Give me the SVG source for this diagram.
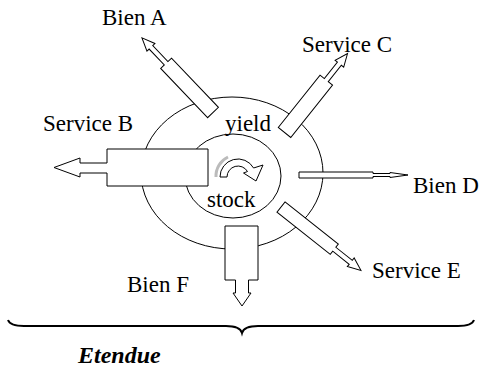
<svg xmlns="http://www.w3.org/2000/svg" width="488" height="369" viewBox="0 0 488 369">
<defs>
<path id="arA" d="M0,-7.5 H68 V-2.5 H90 V-5.5 L103,0 L90,5.5 V2.5 H68 V7.5 H0 Z"/>
</defs>
<rect width="488" height="369" fill="#fff"/>
<g id="outer-zone">
<ellipse cx="232" cy="173" rx="91" ry="76" fill="none" stroke="#000" stroke-width="1"/>
<text x="225" y="131" font-family="Liberation Serif" font-size="23">yield</text>
</g>
<g id="stock-core">
<ellipse cx="233" cy="176" rx="48" ry="42" fill="none" stroke="#000" stroke-width="1"/>
<path d="M216,177 A21,21 0 0 1 228,157" fill="none" stroke="#bbb" stroke-width="3"/>
<path d="M220,177 A18,18 0 0 1 253.6,168 L263,165 L256,181 L243.5,173 L247.5,171.5 A11,11 0 0 0 227,177 Z" fill="#fff" stroke="#000" stroke-width="1"/>
<text x="207" y="207" font-family="Liberation Serif" font-size="23">stock</text>
</g>
<g id="connectors" fill="#fff" stroke="#000" stroke-width="1">
<path transform="translate(213,112.5) rotate(-133.6)" d="M0,-7.5 H68 V-2.5 H90 V-5.5 L103,0 L90,5.5 V2.5 H68 V7.5 H0 Z"/>
<path transform="translate(284.5,132.5) rotate(-51.4)" d="M0,-8 H67 V-2.5 H88 V-5.5 L101,0 L88,5.5 V2.5 H67 V8 H0 Z"/>
<path transform="translate(281,207) rotate(38.4)" d="M0,-6.5 H68 V-2.5 H89 V-5.5 L102,0 L89,5.5 V2.5 H68 V6.5 H0 Z"/>
<path d="M299,172 H373 V173.5 H390 V172.5 L408,175 L390,177.5 V176.5 H373 V178 H299 Z"/>
<path d="M208,149 V186 H107 V173 H80 V177 L54,167.5 L80,158 V163 H107 V149 Z"/>
<path d="M225,226 H258 V280 H248.5 V293 H251 L242,306 L233,293 H235.5 V280 H225 Z"/>
</g>
<g id="bien-a"><text x="102" y="25" font-family="Liberation Serif" font-size="23">Bien A</text></g>
<g id="service-c"><text x="302" y="52" font-family="Liberation Serif" font-size="23">Service C</text></g>
<g id="service-b"><text x="43" y="131" font-family="Liberation Serif" font-size="23">Service B</text></g>
<g id="bien-d"><text x="413" y="193" font-family="Liberation Serif" font-size="23">Bien D</text></g>
<g id="service-e"><text x="372" y="278" font-family="Liberation Serif" font-size="23">Service E</text></g>
<g id="bien-f"><text x="127" y="292" font-family="Liberation Serif" font-size="23">Bien F</text></g>
<g id="etendue">
<path d="M8,320 Q10,326 24,326 L226,326 Q240,326 242,333 Q244,326 258,326 L458,326 Q472,326 474,320" fill="none" stroke="#000" stroke-width="2"/>
<text x="78" y="363" font-family="Liberation Serif" font-size="24" font-weight="bold" font-style="italic">Etendue</text>
</g>
</svg>
